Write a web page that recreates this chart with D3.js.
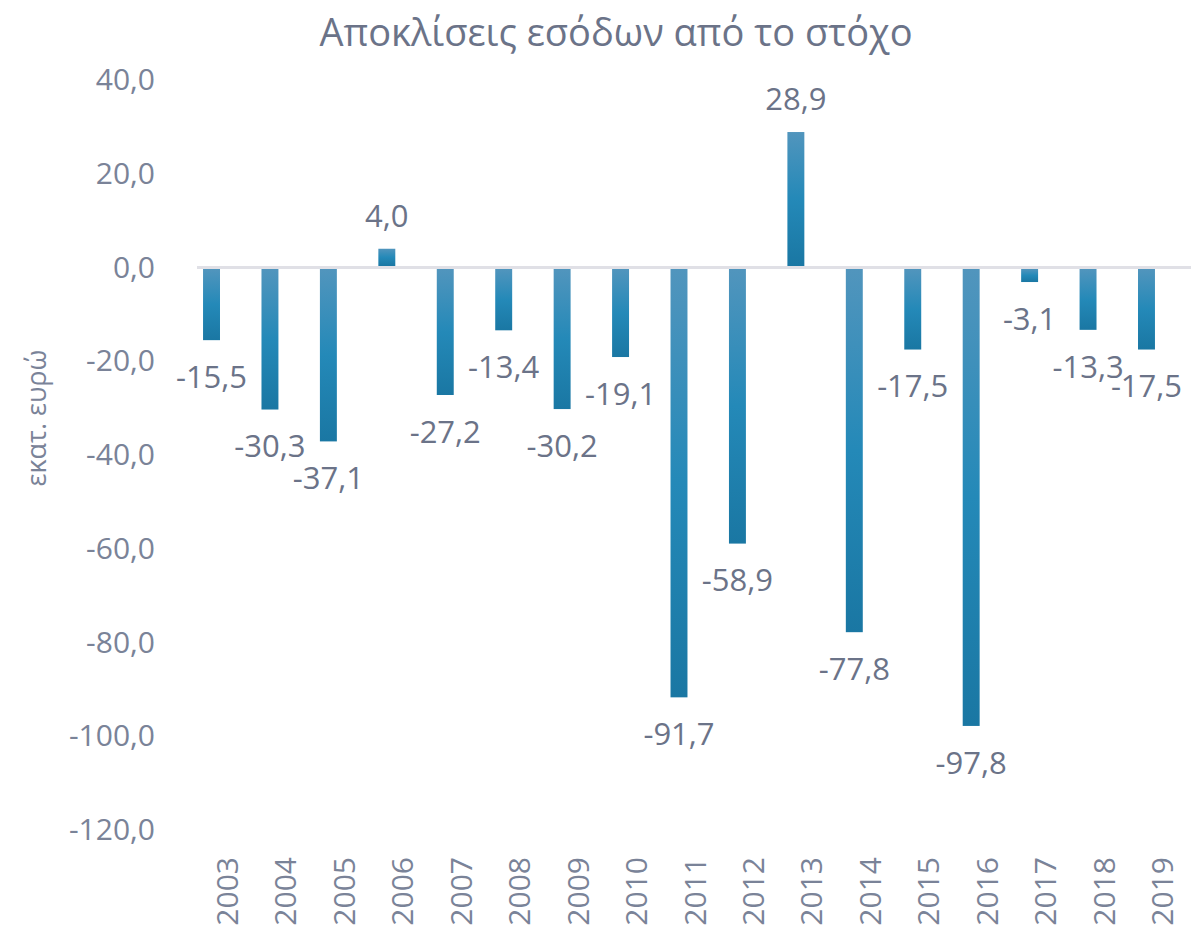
<!DOCTYPE html>
<html>
<head>
<meta charset="utf-8">
<script src="https://cdn.jsdelivr.net/npm/d3@7"></script>
<style>
  body { margin: 0; background: #fff; }
  text { font-family: "Open Sans", "Noto Sans", sans-serif; }
</style>
</head>
<body>
<div class="chart"></div>
<script>
// data
var years = ["2003", "2004", "2005", "2006", "2007", "2008", "2009", "2010", "2011",
             "2012", "2013", "2014", "2015", "2016", "2017", "2018", "2019"];
var values = [-15.5, -30.3, -37.1, 4.0, -27.2, -13.4, -30.2, -19.1, -91.7,
              -58.9, 28.9, -77.8, -17.5, -97.8, -3.1, -13.3, -17.5];
var yTicks = [40, 20, 0, -20, -40, -60, -80, -100, -120];

var w = 1204;
var h = 929;
var textColor = "#6b7388";

var fmt = function(v) { return v.toFixed(1).replace(".", ","); };

var svg = d3.select(".chart")
    .append("svg")
    .attr("width", w)
    .attr("height", h);

// gradient for the bars
var defs = svg.append("defs");
var grad = defs.append("linearGradient")
    .attr("id", "barGrad")
    .attr("x1", 0).attr("y1", 0)
    .attr("x2", 0).attr("y2", 1);
grad.append("stop").attr("offset", "0%").attr("stop-color", "#5195bd");
grad.append("stop").attr("offset", "50%").attr("stop-color", "#2489b8");
grad.append("stop").attr("offset", "100%").attr("stop-color", "#1a77a3");

var blur = defs.append("filter").attr("id", "soft")
    .attr("x", "-5%").attr("y", "-200%").attr("width", "110%").attr("height", "500%");
blur.append("feGaussianBlur").attr("stdDeviation", 3);

var x = d3.scaleBand()
    .domain(years)
    .range([182.3, 1175.7])
    .paddingInner(0.71)
    .paddingOuter(0.355);

var y = d3.scaleLinear()
    .domain([-120, 40])
    .range([830, 80]);

// title
svg.append("text")
    .attr("x", 616)
    .attr("y", 46)
    .attr("text-anchor", "middle")
    .attr("font-size", 38)
    .attr("fill", textColor)
    .text("Αποκλίσεις εσόδων από το στόχο");

// y axis labels
var axisY = d3.axisLeft(y)
    .tickValues(yTicks)
    .tickSize(0)
    .tickPadding(0)
    .tickFormat(fmt);

var gy = svg.append("g")
    .attr("transform", "translate(155,0)")
    .call(axisY);
gy.select(".domain").remove();
gy.selectAll("text")
    .attr("font-size", 30)
    .attr("font-family", "'Open Sans', 'Noto Sans', sans-serif")
    .attr("fill", "#7a8398");

// y axis title
svg.append("text")
    .attr("transform", "translate(46,418) rotate(-90)")
    .attr("text-anchor", "middle")
    .attr("font-size", 27)
    .attr("fill", "#7a8398")
    .text("εκατ. ευρώ");

// zero line with soft shadow
svg.append("line")
    .attr("x1", 197).attr("x2", 1191)
    .attr("y1", y(0) + 4).attr("y2", y(0) + 4)
    .attr("stroke", "#e8e8ee")
    .attr("stroke-width", 4)
    .attr("filter", "url(#soft)");
svg.append("line")
    .attr("x1", 197).attr("x2", 1191)
    .attr("y1", y(0)).attr("y2", y(0))
    .attr("stroke", "#e0e0e6")
    .attr("stroke-width", 3);

// bars
svg.selectAll(".bar")
    .data(values)
    .enter()
    .append("rect")
    .attr("class", "bar")
    .attr("x", function(d, i) { return x(years[i]); })
    .attr("width", x.bandwidth())
    .attr("y", function(d) { return d >= 0 ? y(d) : y(0) + 1.5; })
    .attr("height", function(d) { return Math.abs(y(d) - y(0)) - 1.5; })
    .attr("fill", "url(#barGrad)");

// value labels
svg.selectAll(".lbl")
    .data(values)
    .enter()
    .append("text")
    .attr("class", "lbl")
    .attr("x", function(d, i) { return x(years[i]) + x.bandwidth() / 2; })
    .attr("y", function(d) { return d >= 0 ? y(d) - 33 : y(d) + 37; })
    .attr("dy", "0.35em")
    .attr("text-anchor", "middle")
    .attr("font-size", 31)
    .attr("fill", textColor)
    .text(fmt);

// x labels (rotated)
var axisX = d3.axisBottom(x).tickSize(0).tickPadding(0);
var gx = svg.append("g")
    .attr("transform", "translate(16,857)")
    .call(axisX);
gx.select(".domain").remove();
gx.selectAll("text")
    .attr("transform", "rotate(-90)")
    .attr("text-anchor", "end")
    .attr("x", 0)
    .attr("y", 0)
    .attr("dy", "0.35em")
    .attr("font-size", 30)
    .attr("font-family", "'Open Sans', 'Noto Sans', sans-serif")
    .attr("fill", "#7a8398");
</script>
</body>
</html>
